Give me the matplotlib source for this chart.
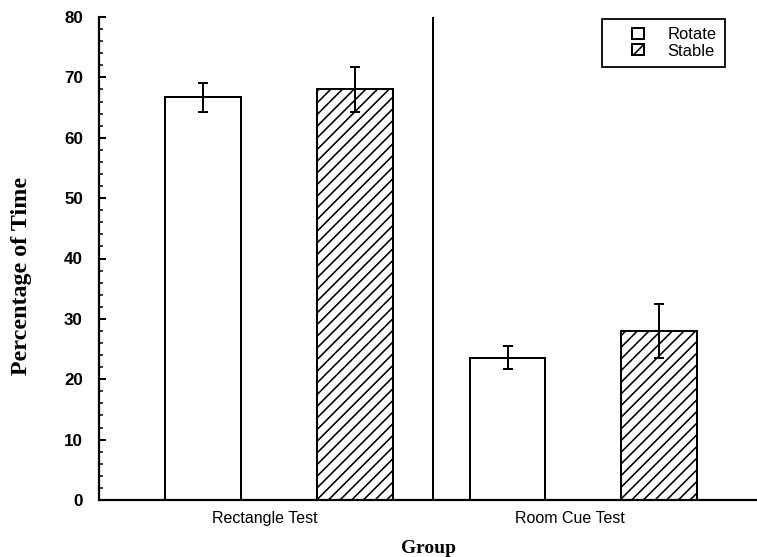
import numpy as np
import matplotlib
matplotlib.use('Agg')
import matplotlib.pyplot as plt
from matplotlib.patches import Patch, Rectangle
from matplotlib.legend_handler import HandlerPatch
from matplotlib.ticker import MultipleLocator

DPI = 140


def px(v):
    # pixel size -> points at this dpi
    return v * 72.0 / DPI


groups = ['Rectangle Test', 'Room Cue Test']
series = ['Rotate', 'Stable']
rotate_vals = [66.7, 23.6]
rotate_err = [2.4, 1.9]
stable_vals = [68.0, 28.0]
stable_err = [3.8, 4.5]

plt.rcParams['hatch.linewidth'] = px(1.6)

fig = plt.figure(figsize=(757 / DPI, 557 / DPI), dpi=DPI)
ax = fig.add_axes([99 / 757, 1 - 500 / 557, 1 - 99 / 757, (500 - 17) / 557])

x = np.arange(len(groups))
w = 0.249
ekw = dict(elinewidth=px(2), capthick=px(2))
ax.bar(x - w, rotate_vals, width=w, color='white', edgecolor='black',
       linewidth=px(2), yerr=rotate_err, capsize=px(4.5), error_kw=ekw)
ax.bar(x + w, stable_vals, width=w, color='white', edgecolor='black',
       linewidth=px(2), hatch='////', yerr=stable_err, capsize=px(4.5), error_kw=ekw)

# divider between the two tests
ax.axvline(0.505, color='black', linewidth=px(2))

ax.set_xlim(-0.590, 1.570)
ax.set_ylim(0, 80)
ax.spines['top'].set_visible(False)
ax.spines['right'].set_visible(False)
ax.spines['left'].set_linewidth(px(2.2))
ax.spines['bottom'].set_linewidth(px(2.2))

ax.yaxis.set_major_locator(MultipleLocator(10))
ax.yaxis.set_minor_locator(MultipleLocator(2))
ax.tick_params(axis='y', which='major', direction='in', length=px(7), width=px(2),
               pad=px(16), labelsize=px(17))
ax.tick_params(axis='y', which='minor', direction='in', length=px(4), width=px(1.5))
for t in ax.get_yticklabels():
    t.set_fontfamily('Liberation Sans')
    t.set_fontweight('bold')

ax.set_xticks(x - 0.045)
ax.set_xticklabels(groups, fontfamily='Liberation Sans', fontsize=px(16))
ax.tick_params(axis='x', length=0, pad=px(11))

ax.set_ylabel('Percentage of Time', fontfamily='Liberation Serif', fontweight='bold',
              fontsize=px(24))
ax.yaxis.set_label_coords(-0.102, 0.464)
ax.set_xlabel('Group', fontfamily='Liberation Serif', fontweight='bold',
              fontsize=px(19.5), labelpad=px(14))


def small_square(legend, orig_handle, xdescent, ydescent, width, height, fontsize):
    # small square sitting at the right end of the handle area
    s = height
    return Rectangle((width - s - xdescent, -ydescent), s, s)


handles = [Patch(facecolor='white', edgecolor='black', linewidth=px(2)),
           Patch(facecolor='white', edgecolor='black', linewidth=px(2), hatch='////')]
leg = ax.legend(handles, series, loc='upper right',
                bbox_to_anchor=(725 / 757, 1 - 19 / 557), bbox_transform=fig.transFigure,
                borderaxespad=0, fancybox=False, edgecolor='black', framealpha=1,
                prop={'family': 'Liberation Sans', 'size': px(16.5)},
                handler_map={Patch: HandlerPatch(patch_func=small_square)},
                handlelength=2.0, handleheight=0.68, handletextpad=1.45,
                labelspacing=0.08, borderpad=0.5)
leg.get_frame().set_linewidth(px(1.8))

fig.savefig('out.png', dpi=DPI)
